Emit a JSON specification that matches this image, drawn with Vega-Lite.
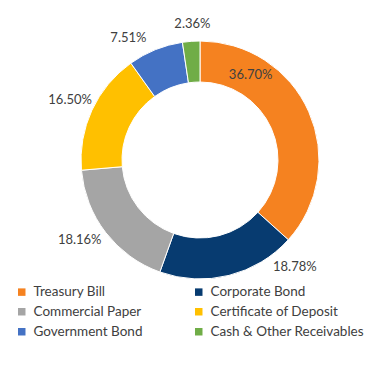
{
  "$schema": "https://vega.github.io/schema/vega-lite/v6.json",
  "width": 338,
  "height": 320,
  "padding": {"left": 31, "top": 0, "right": 0, "bottom": 70},
  "autosize": {"type": "none"},
  "background": "white",
  "config": {"view": {"stroke": null}, "font": "Lato"},
  "data": {
    "values": [
      {"idx": 1, "name": "Treasury Bill", "share": 0.3670},
      {"idx": 2, "name": "Corporate Bond", "share": 0.1878},
      {"idx": 3, "name": "Commercial Paper", "share": 0.1816},
      {"idx": 4, "name": "Certificate of Deposit", "share": 0.1650},
      {"idx": 5, "name": "Government Bond", "share": 0.0751},
      {"idx": 6, "name": "Cash & Other Receivables", "share": 0.0236}
    ]
  },
  "encoding": {
    "theta": {"field": "share", "type": "quantitative", "stack": true},
    "order": {"field": "idx", "type": "quantitative"}
  },
  "layer": [
    {
      "mark": {"type": "arc", "innerRadius": 78, "outerRadius": 119, "stroke": "white", "strokeWidth": 1},
      "encoding": {
        "color": {
          "field": "name",
          "type": "nominal",
          "scale": {
            "domain": ["Treasury Bill", "Corporate Bond", "Commercial Paper", "Certificate of Deposit", "Government Bond", "Cash & Other Receivables"],
            "range": ["#F58220", "#073B70", "#A5A5A5", "#FFC000", "#4472C4", "#70AD47"]
          },
          "legend": {
            "orient": "none",
            "legendX": -16,
            "legendY": 285,
            "direction": "horizontal",
            "columns": 2,
            "title": null,
            "symbolType": "square",
            "symbolSize": 56,
            "symbolStrokeWidth": 0,
            "labelFont": "Lato",
            "labelFontSize": 13.5,
            "labelColor": "#404040",
            "labelOffset": 5,
            "columnPadding": 49,
            "rowPadding": 5,
            "labelLimit": 300
          }
        }
      }
    },
    {
      "mark": {"type": "text", "radius": 143, "font": "Lato", "fontSize": 13, "fill": "#404040", "align": "center", "baseline": "middle"},
      "encoding": {
        "text": {
          "condition": {"test": "datum.idx === 4", "field": "share", "type": "quantitative", "format": ".2%"},
          "value": ""
        }
      }
    },
    {
      "mark": {"type": "text", "radius": 143, "dx": 3, "dy": 7, "font": "Lato", "fontSize": 13, "fill": "#404040", "align": "center", "baseline": "middle"},
      "encoding": {
        "text": {
          "condition": {"test": "datum.idx === 6", "field": "share", "type": "quantitative", "format": ".2%"},
          "value": ""
        }
      }
    },
    {
      "mark": {"type": "text", "radius": 143, "dx": -80, "dy": -27, "font": "Lato", "fontSize": 13, "fill": "#404040", "align": "center", "baseline": "middle"},
      "encoding": {
        "text": {
          "condition": {"test": "datum.idx === 1", "field": "share", "type": "quantitative", "format": ".2%"},
          "value": ""
        }
      }
    },
    {
      "mark": {"type": "text", "radius": 143, "dx": 60, "dy": -32, "font": "Lato", "fontSize": 13, "fill": "#404040", "align": "center", "baseline": "middle"},
      "encoding": {
        "text": {
          "condition": {"test": "datum.idx === 2", "field": "share", "type": "quantitative", "format": ".2%"},
          "value": ""
        }
      }
    },
    {
      "mark": {"type": "text", "radius": 143, "dx": -7, "dy": -7, "font": "Lato", "fontSize": 13, "fill": "#404040", "align": "center", "baseline": "middle"},
      "encoding": {
        "text": {
          "condition": {"test": "datum.idx === 3", "field": "share", "type": "quantitative", "format": ".2%"},
          "value": ""
        }
      }
    },
    {
      "mark": {"type": "text", "radius": 143, "dx": -18, "dy": 11, "font": "Lato", "fontSize": 13, "fill": "#404040", "align": "center", "baseline": "middle"},
      "encoding": {
        "text": {
          "condition": {"test": "datum.idx === 5", "field": "share", "type": "quantitative", "format": ".2%"},
          "value": ""
        }
      }
    }
  ]
}
